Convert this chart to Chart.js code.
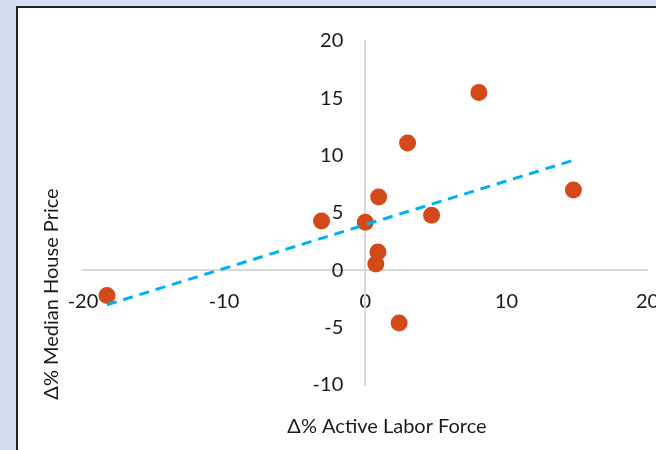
<!DOCTYPE html>
<html>
<head>
<meta charset="utf-8">
<script src="https://cdn.jsdelivr.net/npm/chart.js@4"></script>
<style>
  html, body { margin: 0; padding: 0; background: #d5def0; }
  #wrap { position: absolute; left: 0; top: 0; width: 656px; height: 450px; }
</style>
</head>
<body>
<div id="wrap"><canvas id="chart" width="656" height="450"></canvas></div>
<script>
// change in active labor force (%) vs change in median house price (%)
const laborChange = [-18.3, -3.1, 0.0, 0.95, 0.9, 0.75, 3.0, 4.7, 8.05, 14.75, 2.4];
const priceChange = [-2.2, 4.3, 4.2, 6.4, 1.6, 0.55, 11.1, 4.8, 15.5, 7.0, -4.6];

// linear trend, end points
const trendX = [-18.3, 14.75];
const trendY = [-3.0, 9.6];

const xTicks = [-20, -10, 0, 10, 20];
const yTicks = [-10, -5, 0, 5, 10, 15, 20];

const points = laborChange.map((x, i) => ({ x: x, y: priceChange[i] }));
const trend = trendX.map((x, i) => ({ x: x, y: trendY[i] }));

const FONT = 'Lato, "Open Sans", sans-serif';
const TEXT = '#1a1a1a';

// background panel, y tick labels (kept off the crossing axis) and axis titles
const frame = {
  id: 'frame',
  beforeDraw(chart) {
    const c = chart.ctx;
    c.save();
    c.fillStyle = '#d5def0';
    c.fillRect(0, 0, 656, 450);
    c.fillStyle = '#ffffff';
    c.fillRect(17, 7, 660, 460);
    c.strokeStyle = '#222222';
    c.lineWidth = 2;
    c.strokeRect(17, 7, 660, 460);
    c.restore();
  },
  afterDraw(chart) {
    const c = chart.ctx;
    const { x, y } = chart.scales;
    c.save();
    c.fillStyle = TEXT;
    c.font = '20px ' + FONT;
    c.textAlign = 'right';
    c.textBaseline = 'middle';
    const labelX = x.getPixelForValue(0) - 22;
    yTicks.forEach(v => c.fillText(String(v), labelX, y.getPixelForValue(v)));

    c.textAlign = 'center';
    c.fillText('Δ% Active Labor Force', 387, 427);
    c.translate(52, 294);
    c.rotate(-Math.PI / 2);
    c.fillText('Δ% Median House Price', 0, 0);
    c.restore();
  }
};

// let the end labels hang past the plot edge instead of shrinking it
const noOverflow = s => { s.paddingLeft = 0; s.paddingRight = 0; s.paddingTop = 0; s.paddingBottom = 0; };

new Chart(document.getElementById('chart'), {
  type: 'scatter',
  data: {
    datasets: [{
      label: 'trend',
      type: 'line',
      data: trend,
      borderColor: '#00b0f0',
      borderWidth: 3,
      borderDash: [10, 7],
      pointRadius: 0,
      fill: false,
      order: 0
    }, {
      label: 'cities',
      data: points,
      backgroundColor: '#d4491a',
      borderWidth: 0,
      pointRadius: 8.5,
      order: 1
    }]
  },
  options: {
    responsive: false,
    animation: false,
    layout: { padding: { left: 83, right: -3, top: 41, bottom: 65 } },
    plugins: {
      legend: { display: false },
      tooltip: { enabled: false }
    },
    scales: {
      x: {
        type: 'linear',
        position: { y: 0 },
        min: -20,
        max: 20,
        afterBuildTicks: s => { s.ticks = xTicks.map(v => ({ value: v })); },
        afterFit: noOverflow,
        grid: { display: false, drawTicks: false },
        border: { display: true, color: '#d9d9d9', width: 2 },
        ticks: { color: TEXT, font: { family: FONT, size: 20 }, padding: 19, maxRotation: 0 }
      },
      y: {
        type: 'linear',
        position: { x: 0 },
        min: -10,
        max: 20,
        afterBuildTicks: s => { s.ticks = yTicks.map(v => ({ value: v })); },
        afterFit: noOverflow,
        grid: { display: false, drawTicks: false },
        border: { display: true, color: '#d9d9d9', width: 2 },
        ticks: { display: false }
      }
    }
  },
  plugins: [frame]
});
</script>
</body>
</html>
